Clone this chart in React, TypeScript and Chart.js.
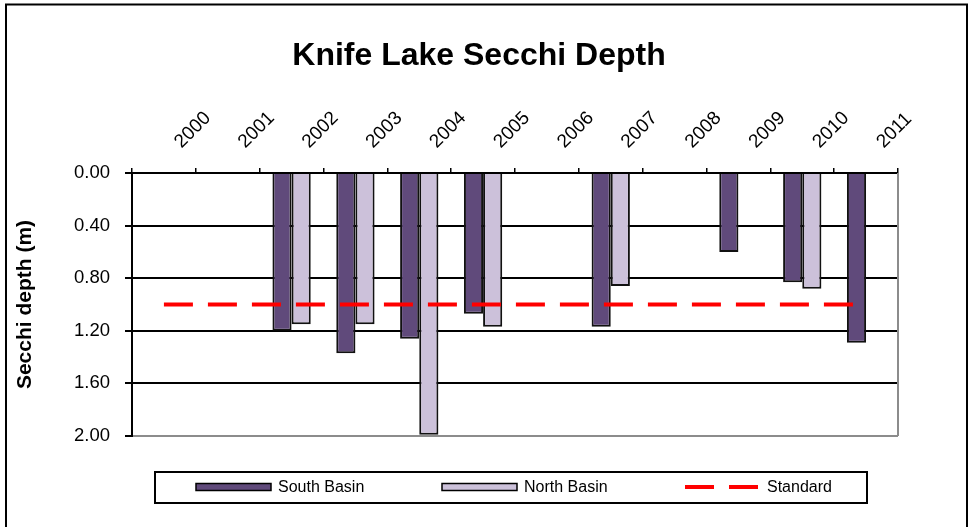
import React, { useEffect, useRef } from "react";
import { Chart, registerables } from "chart.js";

Chart.register(...registerables);

const chartTitle = "Knife Lake Secchi Depth";
const yAxisTitle = "Secchi depth (m)";
const years = ["2000", "2001", "2002", "2003", "2004", "2005", "2006", "2007", "2008", "2009", "2010", "2011"];
const southBasin = [null, null, 1.2, 1.37, 1.26, 1.07, null, 1.17, null, 0.6, 0.83, 1.29];
const northBasin = [null, null, 1.15, 1.15, 1.99, 1.17, null, 0.86, null, null, 0.88, null];
const standard = [1.0, 1.0, 1.0, 1.0, 1.0, 1.0, 1.0, 1.0, 1.0, 1.0, 1.0, 1.0];
const yMin = 0;
const yMax = 2;
const yStep = 0.4;

const FONT = '"Liberation Sans", Arial, Helvetica, sans-serif';
const SOUTH_COLOR = "#604A7B";
const NORTH_COLOR = "#CCC1DA";
const STD_COLOR = "#FF0000";

const decorPlugin = {
  id: "decor",
  beforeDraw(chart: any) {
    const { ctx, width, height } = chart;
    ctx.save();
    ctx.fillStyle = "#fff";
    ctx.fillRect(0, 0, width, height);
    ctx.restore();
  },
  afterDraw(chart: any) {
    const { ctx, chartArea: a } = chart;
    ctx.save();
    // right plot border (grey)
    ctx.strokeStyle = "#8c8c8c";
    ctx.lineWidth = 2;
    ctx.beginPath();
    ctx.moveTo(a.right, a.top);
    ctx.lineTo(a.right, a.bottom);
    ctx.stroke();

    // outer frame
    ctx.strokeStyle = "#000";
    ctx.lineWidth = 2;
    ctx.strokeRect(6, 4.5, 961, 700);

    // title
    ctx.fillStyle = "#000";
    ctx.font = `bold 32px ${FONT}`;
    ctx.textAlign = "center";
    ctx.textBaseline = "middle";
    ctx.fillText(chartTitle, 479, 56);

    // legend
    ctx.strokeStyle = "#000";
    ctx.lineWidth = 2;
    ctx.strokeRect(155, 472, 712, 31);
    const ds = chart.data.datasets;
    const order = [1, 2, 0];
    const xs = [196, 442, 685];
    const ly = 487;
    ctx.font = `16px ${FONT}`;
    ctx.textAlign = "left";
    ctx.textBaseline = "middle";
    order.forEach((di: number, i: number) => {
      const d = ds[di];
      const x = xs[i];
      if (d.type === "line") {
        ctx.strokeStyle = d.borderColor;
        ctx.lineWidth = 4;
        ctx.setLineDash([29, 15]);
        ctx.beginPath();
        ctx.moveTo(x, ly);
        ctx.lineTo(x + 73, ly);
        ctx.stroke();
        ctx.setLineDash([]);
      } else {
        ctx.fillStyle = d.backgroundColor;
        ctx.fillRect(x, ly - 3.5, 75, 7);
        ctx.strokeStyle = "#000";
        ctx.lineWidth = 1.5;
        ctx.strokeRect(x, ly - 3.5, 75, 7);
      }
      ctx.fillStyle = "#000";
      ctx.fillText(d.label, x + 82, ly + 1);
    });
    ctx.restore();
  },
};

export default function App() {
  const ref = useRef<HTMLCanvasElement>(null);

  useEffect(() => {
    document.body.style.margin = "0";
    Chart.defaults.font.family = FONT;
    Chart.defaults.color = "#000";
    const chart = new Chart(ref.current as HTMLCanvasElement, {
      type: "bar",
      data: {
        labels: years,
        datasets: [
          {
            type: "line",
            label: "Standard",
            data: standard,
            borderColor: STD_COLOR,
            backgroundColor: STD_COLOR,
            borderWidth: 4,
            borderDash: [29, 15],
            pointRadius: 0,
            fill: false,
            order: 0,
          } as any,
          {
            label: "South Basin",
            data: southBasin,
            backgroundColor: SOUTH_COLOR,
            borderColor: "#111",
            borderWidth: 2,
            categoryPercentage: 0.6,
            barPercentage: 1.0,
            order: 1,
          },
          {
            label: "North Basin",
            data: northBasin,
            backgroundColor: NORTH_COLOR,
            borderColor: "#111",
            borderWidth: 2,
            categoryPercentage: 0.6,
            barPercentage: 1.0,
            order: 2,
          },
        ],
      },
      options: {
        responsive: false,
        animation: false,
        devicePixelRatio: 1,
        events: [],
        layout: { padding: { left: 6, top: 84, right: 71, bottom: 91 } },
        plugins: {
          legend: { display: false },
          title: { display: false },
          tooltip: { enabled: false },
        },
        scales: {
          x: {
            position: "top",
            offset: true,
            grid: {
              offset: true,
              drawOnChartArea: false,
              drawTicks: true,
              tickLength: 5,
              color: "#000",
              lineWidth: 1.5,
            },
            border: { display: true, color: "#000", width: 2 },
            ticks: {
              minRotation: 45,
              maxRotation: 45,
              autoSkip: false,
              labelOffset: 30,
              padding: 15,
              font: { size: 19 },
              color: "#000",
            },
            afterFit: (s: any) => {
              s.height = 89;
            },
          },
          y: {
            reverse: true,
            min: yMin,
            max: yMax,
            ticks: {
              stepSize: yStep,
              callback: (v: any) => Number(v).toFixed(2),
              padding: 15,
              font: { size: 18.5 },
              color: "#000",
            },
            grid: {
              color: (c: any) => (c.tick && c.tick.value >= yMax - 1e-9 ? "#8c8c8c" : "#000"),
              lineWidth: 2,
              tickLength: 7,
              tickColor: "#000",
            },
            border: { display: true, color: "#000", width: 2 },
            title: {
              display: true,
              text: yAxisTitle,
              font: { size: 21, weight: "bold" },
              color: "#000",
              padding: { top: 7, bottom: 0 },
            },
            afterFit: (s: any) => {
              s.width = 126;
            },
          },
        },
      } as any,
      plugins: [decorPlugin],
    });
    return () => chart.destroy();
  }, []);

  return (
    <div style={{ width: 969, height: 527 }}>
      <canvas ref={ref} width={969} height={527} style={{ display: "block" }} />
    </div>
  );
}
